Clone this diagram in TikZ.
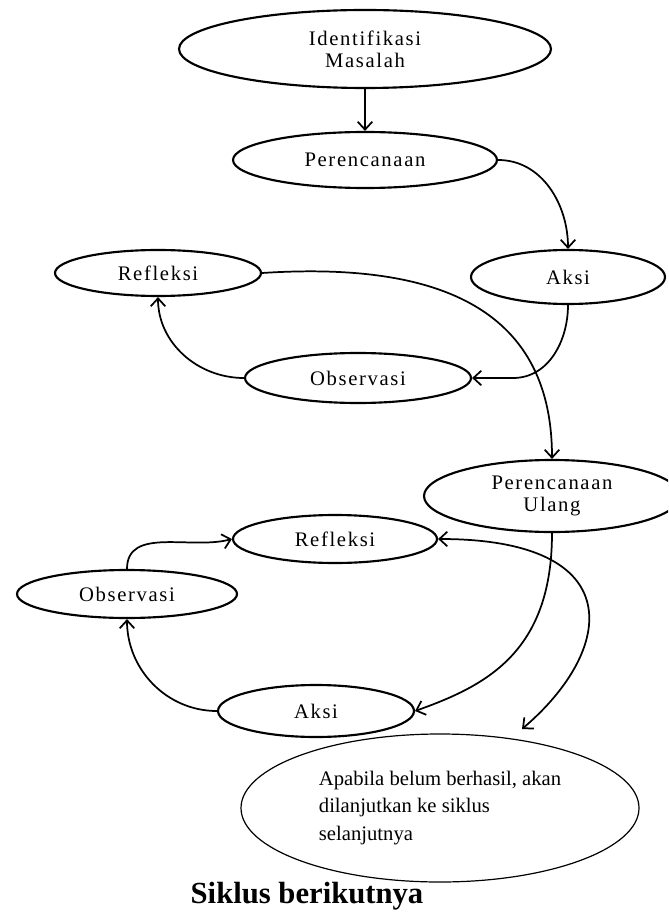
\documentclass[tikz,border=0pt]{standalone}
\usepackage{fontspec}
\setmainfont{Liberation Serif}
\newfontfamily\lblfont[LetterSpace=8]{Liberation Serif}
\usetikzlibrary{shapes.geometric,arrows.meta}
\begin{document}
\begin{tikzpicture}[x=0.75pt,y=0.75pt,
  box/.style={ellipse, draw, line width=1.6pt, inner sep=0pt,
    font=\lblfont\fontsize{15.5}{16.5}\selectfont, align=center},
  tip/.tip={Straight Barb[length=6pt,width=11pt,line width=1.3pt]},
  arr/.style={line width=1.3pt, -tip},
  darr/.style={line width=1.3pt, tip-tip}]
\useasboundingbox (0,-912) rectangle (668,0);
\clip (0,-912) rectangle (668,0);
\node[box, minimum width=279pt, minimum height=58.5pt] (idm) at (365,-49) {Identifikasi\\Masalah};
\node[box, minimum width=198pt, minimum height=42pt] (per) at (365,-160) {Perencanaan};
\node[box, minimum width=145.5pt, minimum height=40.5pt] (aksi1) at (568,-277) {Aksi};
\node[box, minimum width=154.5pt, minimum height=34.5pt] (ref1) at (158,-273) {Refleksi};
\node[box, minimum width=169.5pt, minimum height=37.5pt] (obs1) at (358,-378) {Observasi};
\node[box, minimum width=192pt, minimum height=54pt] (pu) at (552,-496) {Perencanaan\\Ulang};
\node[box, minimum width=153pt, minimum height=36pt] (ref2) at (335,-539) {Refleksi};
\node[box, minimum width=165pt, minimum height=36pt] (obs2) at (127,-594) {Observasi};
\node[box, minimum width=147pt, minimum height=39pt] (aksi2) at (316,-711) {Aksi};
\node[ellipse, draw, line width=0.9pt, inner sep=0pt, minimum width=298.5pt, minimum height=111pt,
  align=left, font=\fontsize{15.5}{20.6}\selectfont] (fin) at (440,-808)
  {Apabila belum berhasil, akan\\dilanjutkan ke siklus\\selanjutnya};
\node[anchor=base, inner sep=0pt, font=\bfseries\fontsize{23}{27}\selectfont] (title) at (307,-903) {Siklus berikutnya};
\coordinate (k1) at (513,-378);
\coordinate (ftip) at (522,-729);
\draw[arr, line width=1.6pt] (idm.south) -- (per.north);
\draw[arr] (per.east) to[out=0,in=90] (aksi1.north);
\draw[arr] (aksi1.south) to[out=-90,in=0] (k1) -- (obs1.east);
\draw[arr] (obs1.west) to[out=180,in=-90] (ref1.south);
\draw[arr] (ref1.east) .. controls +(169,11) and +(0,155) .. (pu.north);
\draw[arr] (pu.south) .. controls +(0,-120) and +(70,25) .. (aksi2.east);
\draw[darr] (ref2.east) .. controls +(193,0) and +(93,79) .. (ftip);
\draw[arr] (aksi2.west) to[out=180,in=-90] (obs2.south);
\draw[arr] (obs2.north) to[out=90,in=195] (ref2.west);
\end{tikzpicture}
\end{document}
